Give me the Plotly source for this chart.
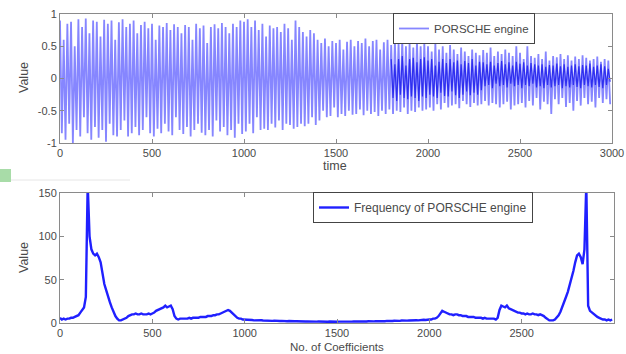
import plotly.graph_objects as go

# ---------------- data ----------------
time_step_samples = list(range(0, 3000, 10))

engine_signal = [
    # 0 .. 990
    0.9, -0.85, 0.6, -0.95, 0.85, -0.7, 0.88, -1.0, 0.5, -0.8,
    0.92, -0.9, 0.8, -0.6, 0.93, -0.85, 0.7, -0.95, 0.9, -0.75,
    0.88, -0.92, 0.65, -0.8, 0.91, -0.98, 0.85, -0.7, 0.9, -0.88,
    0.6, -0.9, 0.87, -0.8, 0.92, -0.65, 0.8, -0.9, 0.85, -0.85,
    0.9, -0.75, 0.7, -0.88, 0.83, -0.8, 0.88, -0.6, 0.78, -0.85,
    0.85, -0.9, 0.6, -0.78, 0.82, -0.85, 0.8, -0.7, 0.86, -0.82,
    0.75, -0.88, 0.84, -0.6, 0.8, -0.8, 0.7, -0.86, 0.83, -0.75,
    0.8, -0.9, 0.6, -0.8, 0.85, -0.7, 0.78, -0.84, 0.82, -0.88,
    0.55, -0.8, 0.8, -0.9, 0.84, -0.65, 0.78, -0.82, 0.86, -0.75,
    0.8, -0.88, 0.7, -0.8, 0.85, -0.92, 0.8, -0.7, 0.9, -0.86,
    # 1000 .. 1390
    0.88, -0.82, 0.92, -0.7, 0.8, -0.85, 0.9, -0.6, 0.75, -0.8,
    0.85, -0.78, 0.65, -0.8, 0.82, -0.7, 0.78, -0.76, 0.8, -0.65,
    0.72, -0.8, 0.85, -0.7, 0.78, -0.72, 0.6, -0.78, 0.9, -0.75,
    0.8, -0.7, 0.72, -0.74, 0.65, -0.7, 0.75, -0.6, 0.7, -0.72,
    # 1400 .. 1990
    0.6, -0.65, 0.55, -0.5, 0.62, -0.6, 0.5, -0.58, 0.58, -0.45,
    0.55, -0.6, 0.6, -0.55, 0.45, -0.58, 0.57, -0.5, 0.6, -0.56,
    0.5, -0.55, 0.58, -0.48, 0.55, -0.57, 0.62, -0.5, 0.5, -0.55,
    0.58, -0.52, 0.6, -0.58, 0.45, -0.5, 0.56, -0.55, 0.6, -0.48,
    0.52, -0.55, 0.58, -0.5, 0.55, -0.52, 0.6, -0.45, 0.5, -0.55,
    0.55, -0.5, 0.48, -0.52, 0.58, -0.45, 0.5, -0.5, 0.55, -0.48,
    # 2000 .. 2490
    0.5, -0.45, 0.42, -0.5, 0.55, -0.4, 0.45, -0.48, 0.5, -0.38,
    0.4, -0.45, 0.52, -0.42, 0.45, -0.4, 0.38, -0.46, 0.48, -0.35,
    0.42, -0.4, 0.35, -0.44, 0.45, -0.38, 0.4, -0.42, 0.36, -0.4,
    0.44, -0.35, 0.4, -0.42, 0.48, -0.38, 0.35, -0.4, 0.42, -0.45,
    0.38, -0.4, 0.45, -0.36, 0.4, -0.48, 0.35, -0.42, 0.5, -0.4,
    # 2500 .. 2990
    0.4, -0.38, 0.3, -0.45, 0.5, -0.35, 0.35, -0.42, 0.32, -0.3,
    0.38, -0.48, 0.3, -0.36, 0.42, -0.4, 0.28, -0.55, 0.35, -0.32,
    0.33, -0.4, 0.38, -0.3, 0.3, -0.44, 0.36, -0.38, 0.28, -0.5,
    0.34, -0.35, 0.3, -0.42, 0.36, -0.3, 0.32, -0.4, 0.28, -0.36,
    0.3, -0.45, 0.34, -0.3, 0.26, -0.38, 0.3, -0.32, 0.28, -0.4,
]

core_samples = list(range(1800, 3000, 10))
engine_core = [
    0.3, -0.3, 0.22, -0.35, 0.3, -0.25, 0.35, -0.3, 0.2, -0.32,
    0.3, -0.28, 0.32, -0.3, 0.25, -0.35, 0.3, -0.28, 0.33, -0.3,
    0.28, -0.25, 0.3, -0.28, 0.2, -0.3, 0.26, -0.22, 0.3, -0.27,
    0.24, -0.28, 0.3, -0.2, 0.25, -0.26, 0.28, -0.3, 0.22, -0.25,
    0.27, -0.2, 0.24, -0.26, 0.3, -0.22, 0.2, -0.25, 0.26, -0.18,
    0.25, -0.12, 0.22, -0.1, 0.26, -0.15, 0.2, -0.08, 0.24, -0.12,
    0.27, -0.1, 0.22, -0.14, 0.25, -0.08, 0.2, -0.12, 0.26, -0.1,
    0.23, -0.15, 0.25, -0.1, 0.2, -0.12, 0.24, -0.08, 0.22, -0.14,
    0.2, -0.12, 0.22, -0.15, 0.18, -0.1, 0.21, -0.14, 0.2, -0.12,
    0.23, -0.1, 0.19, -0.15, 0.22, -0.12, 0.18, -0.14, 0.2, -0.1,
    0.22, -0.13, 0.19, -0.15, 0.21, -0.1, 0.2, -0.12, 0.23, -0.14,
    0.18, -0.1, 0.2, -0.13, 0.22, -0.15, 0.19, -0.1, 0.15, -0.05,
]

coef_index = list(range(0, 3000, 10))
frequency = [
    # 0 .. 140
    6, 4, 5, 4, 5, 5, 6, 6, 7, 8, 9, 12, 15, 18, 30,
    # 150
    160,
    # 160 .. 340
    100, 85, 80, 78, 80, 76, 70, 55, 45, 38, 30, 24, 18, 12, 8, 5, 3, 3, 4,
    # 350 .. 640
    5, 6, 8, 9, 10, 10, 11, 10, 10, 11, 10, 10, 10, 11, 10,
    11, 12, 14, 15, 16, 17, 18, 20, 18, 19, 20, 16, 8, 5, 4,
    # 650 .. 850
    5, 5, 5, 5, 5, 6, 5, 6, 6, 6, 6, 7, 7, 7, 7, 8, 8, 8, 9, 9, 10,
    # 860 .. 990
    10, 11, 12, 13, 14, 15, 14, 12, 9, 7, 6, 5, 5, 4,
    # 1000 .. 1490
    4, 3.5, 3.8, 3.2, 3.4, 3, 3.2, 2.8, 3, 3.1,
    2.9, 2.7, 3, 2.6, 2.8, 2.5, 2.7, 2.4, 2.6, 2.3,
    2.5, 2.2, 2.4, 2.1, 2.3, 2, 2.2, 2, 2.1, 1.9,
    2, 1.8, 2, 1.8, 1.9, 1.7, 1.9, 1.7, 1.8, 1.6,
    1.8, 1.6, 1.7, 1.6, 1.7, 1.5, 1.7, 1.5, 1.6, 1.5,
    # 1500 .. 1990
    1.5, 1.6, 1.5, 1.7, 1.5, 1.7, 1.6, 1.7, 1.6, 1.8,
    1.6, 1.8, 1.7, 1.9, 1.7, 1.9, 1.8, 2, 1.8, 2,
    1.9, 2.1, 2, 2.2, 2, 2.3, 2.1, 2.4, 2.2, 2.5,
    2.3, 2.6, 2.4, 2.7, 2.5, 2.8, 2.6, 3, 2.7, 2.9,
    3.1, 3, 2.8, 3.2, 3, 3.4, 3.2, 3.8, 3.5, 4,
    # 2000 .. 2130
    4, 4, 5, 5, 6, 8, 11, 14, 13, 12, 11, 10, 10, 9,
    # 2140 .. 2350
    10, 10, 9, 9, 8, 8, 8, 7, 7, 7, 7, 6, 6, 6, 6, 5, 6, 5, 5, 5, 5, 5,
    # 2360 .. 2650
    4, 6, 15, 20, 19, 18, 20, 17, 16, 15, 14, 13, 12, 12, 11,
    11, 10, 11, 10, 10, 11, 10, 10, 9, 10, 9, 8, 6, 4, 3,
    # 2660 .. 2840
    3, 3, 4, 6, 9, 13, 18, 24, 30, 36, 44, 50, 60, 70, 78, 80, 76, 68, 85,
    # 2850
    160,
    # 2860 .. 2990
    20, 14, 12, 10, 9, 7, 6, 5, 4, 4, 3, 4, 3, 4,
]

top_x_ticks = [0, 500, 1000, 1500, 2000, 2500, 3000]
top_y_ticks = [-1, -0.5, 0, 0.5, 1]
top_y_labels = ["-1", "-0.5", "0", "0.5", "1"]
bottom_y_ticks = [0, 50, 100, 150]

# ---------------- figure ----------------
W, H = 626, 354
FONT = "Liberation Sans, Arial, sans-serif"
TXT = "#4a4a4a"
AX = "#8a8a8a"


def px_x(p):
    return p / W


def px_y(p):
    return 1 - p / H


fig = go.Figure()

fig.add_trace(go.Scatter(
    x=time_step_samples, y=engine_signal, mode="lines", name="PORSCHE engine",
    line=dict(color="#8686ff", width=1.8), xaxis="x", yaxis="y", legend="legend",
))
fig.add_trace(go.Scatter(
    x=core_samples, y=engine_core, mode="lines", name="PORSCHE engine",
    line=dict(color="rgba(24,24,235,0.8)", width=1.2), xaxis="x", yaxis="y", showlegend=False,
))
fig.add_trace(go.Scatter(
    x=coef_index, y=frequency, mode="lines", name="Frequency of PORSCHE engine",
    line=dict(color="#2020ff", width=2.4), xaxis="x2", yaxis="y2", legend="legend2",
))

axis_common = dict(
    showline=True, linecolor=AX, linewidth=1, mirror="ticks",
    ticks="inside", ticklen=4, tickcolor=AX, showgrid=False, zeroline=False,
    automargin=False,
    tickfont=dict(family=FONT, size=11, color=TXT),
)


def label(text, x, y, size=12.5, angle=0):
    return dict(text=text, x=px_x(x), y=px_y(y), xref="paper", yref="paper",
                xanchor="center", yanchor="middle", textangle=angle,
                showarrow=False, font=dict(family=FONT, size=size, color=TXT))


fig.update_layout(
    width=W, height=H, autosize=False,
    margin=dict(l=0, r=0, t=0, b=0, pad=0),
    paper_bgcolor="white", plot_bgcolor="white",
    font=dict(family=FONT, size=12, color=TXT),
    xaxis=dict(domain=[px_x(60), px_x(612)], range=[0, 3000], tickvals=top_x_ticks,
               anchor="y", **axis_common),
    yaxis=dict(domain=[px_y(143), px_y(14)], range=[-1, 1], tickvals=top_y_ticks,
               ticktext=top_y_labels, anchor="x", **axis_common),
    xaxis2=dict(domain=[px_x(60), px_x(614)], range=[0, 3000], tickvals=top_x_ticks,
                anchor="y2", **axis_common),
    yaxis2=dict(domain=[px_y(323), px_y(193)], range=[0, 150], tickvals=bottom_y_ticks,
                anchor="x2", **axis_common),
    legend=dict(x=px_x(393), y=px_y(13), xanchor="left", yanchor="top",
                bgcolor="white", bordercolor="#444", borderwidth=1,
                font=dict(family=FONT, size=11.5, color=TXT),
                tracegroupgap=0, itemwidth=30),
    legend2=dict(x=px_x(313), y=px_y(192), xanchor="left", yanchor="top",
                 bgcolor="white", bordercolor="#444", borderwidth=1,
                 font=dict(family=FONT, size=12, color=TXT),
                 tracegroupgap=0, itemwidth=30),
    annotations=[
        label("Value", 24, 78, angle=-90),
        label("time", 335, 166),
        label("Value", 24, 258, angle=-90),
        label("No. of Coefficients", 337, 347, size=11.5),
    ],
    shapes=[
        dict(type="rect", xref="paper", yref="paper", x0=0, x1=px_x(11),
             y0=px_y(182), y1=px_y(169), fillcolor="#a8dca8", line=dict(width=0), layer="below"),
        dict(type="line", xref="paper", yref="paper", x0=px_x(11), x1=px_x(130),
             y0=px_y(180), y1=px_y(180), line=dict(color="#e6e6e6", width=1), layer="below"),
    ],
)

fig.write_html(
    "out.html",
    config={"responsive": False, "displayModeBar": False},
    post_script="document.body.style.margin='0';document.body.style.overflow='hidden';",
)
